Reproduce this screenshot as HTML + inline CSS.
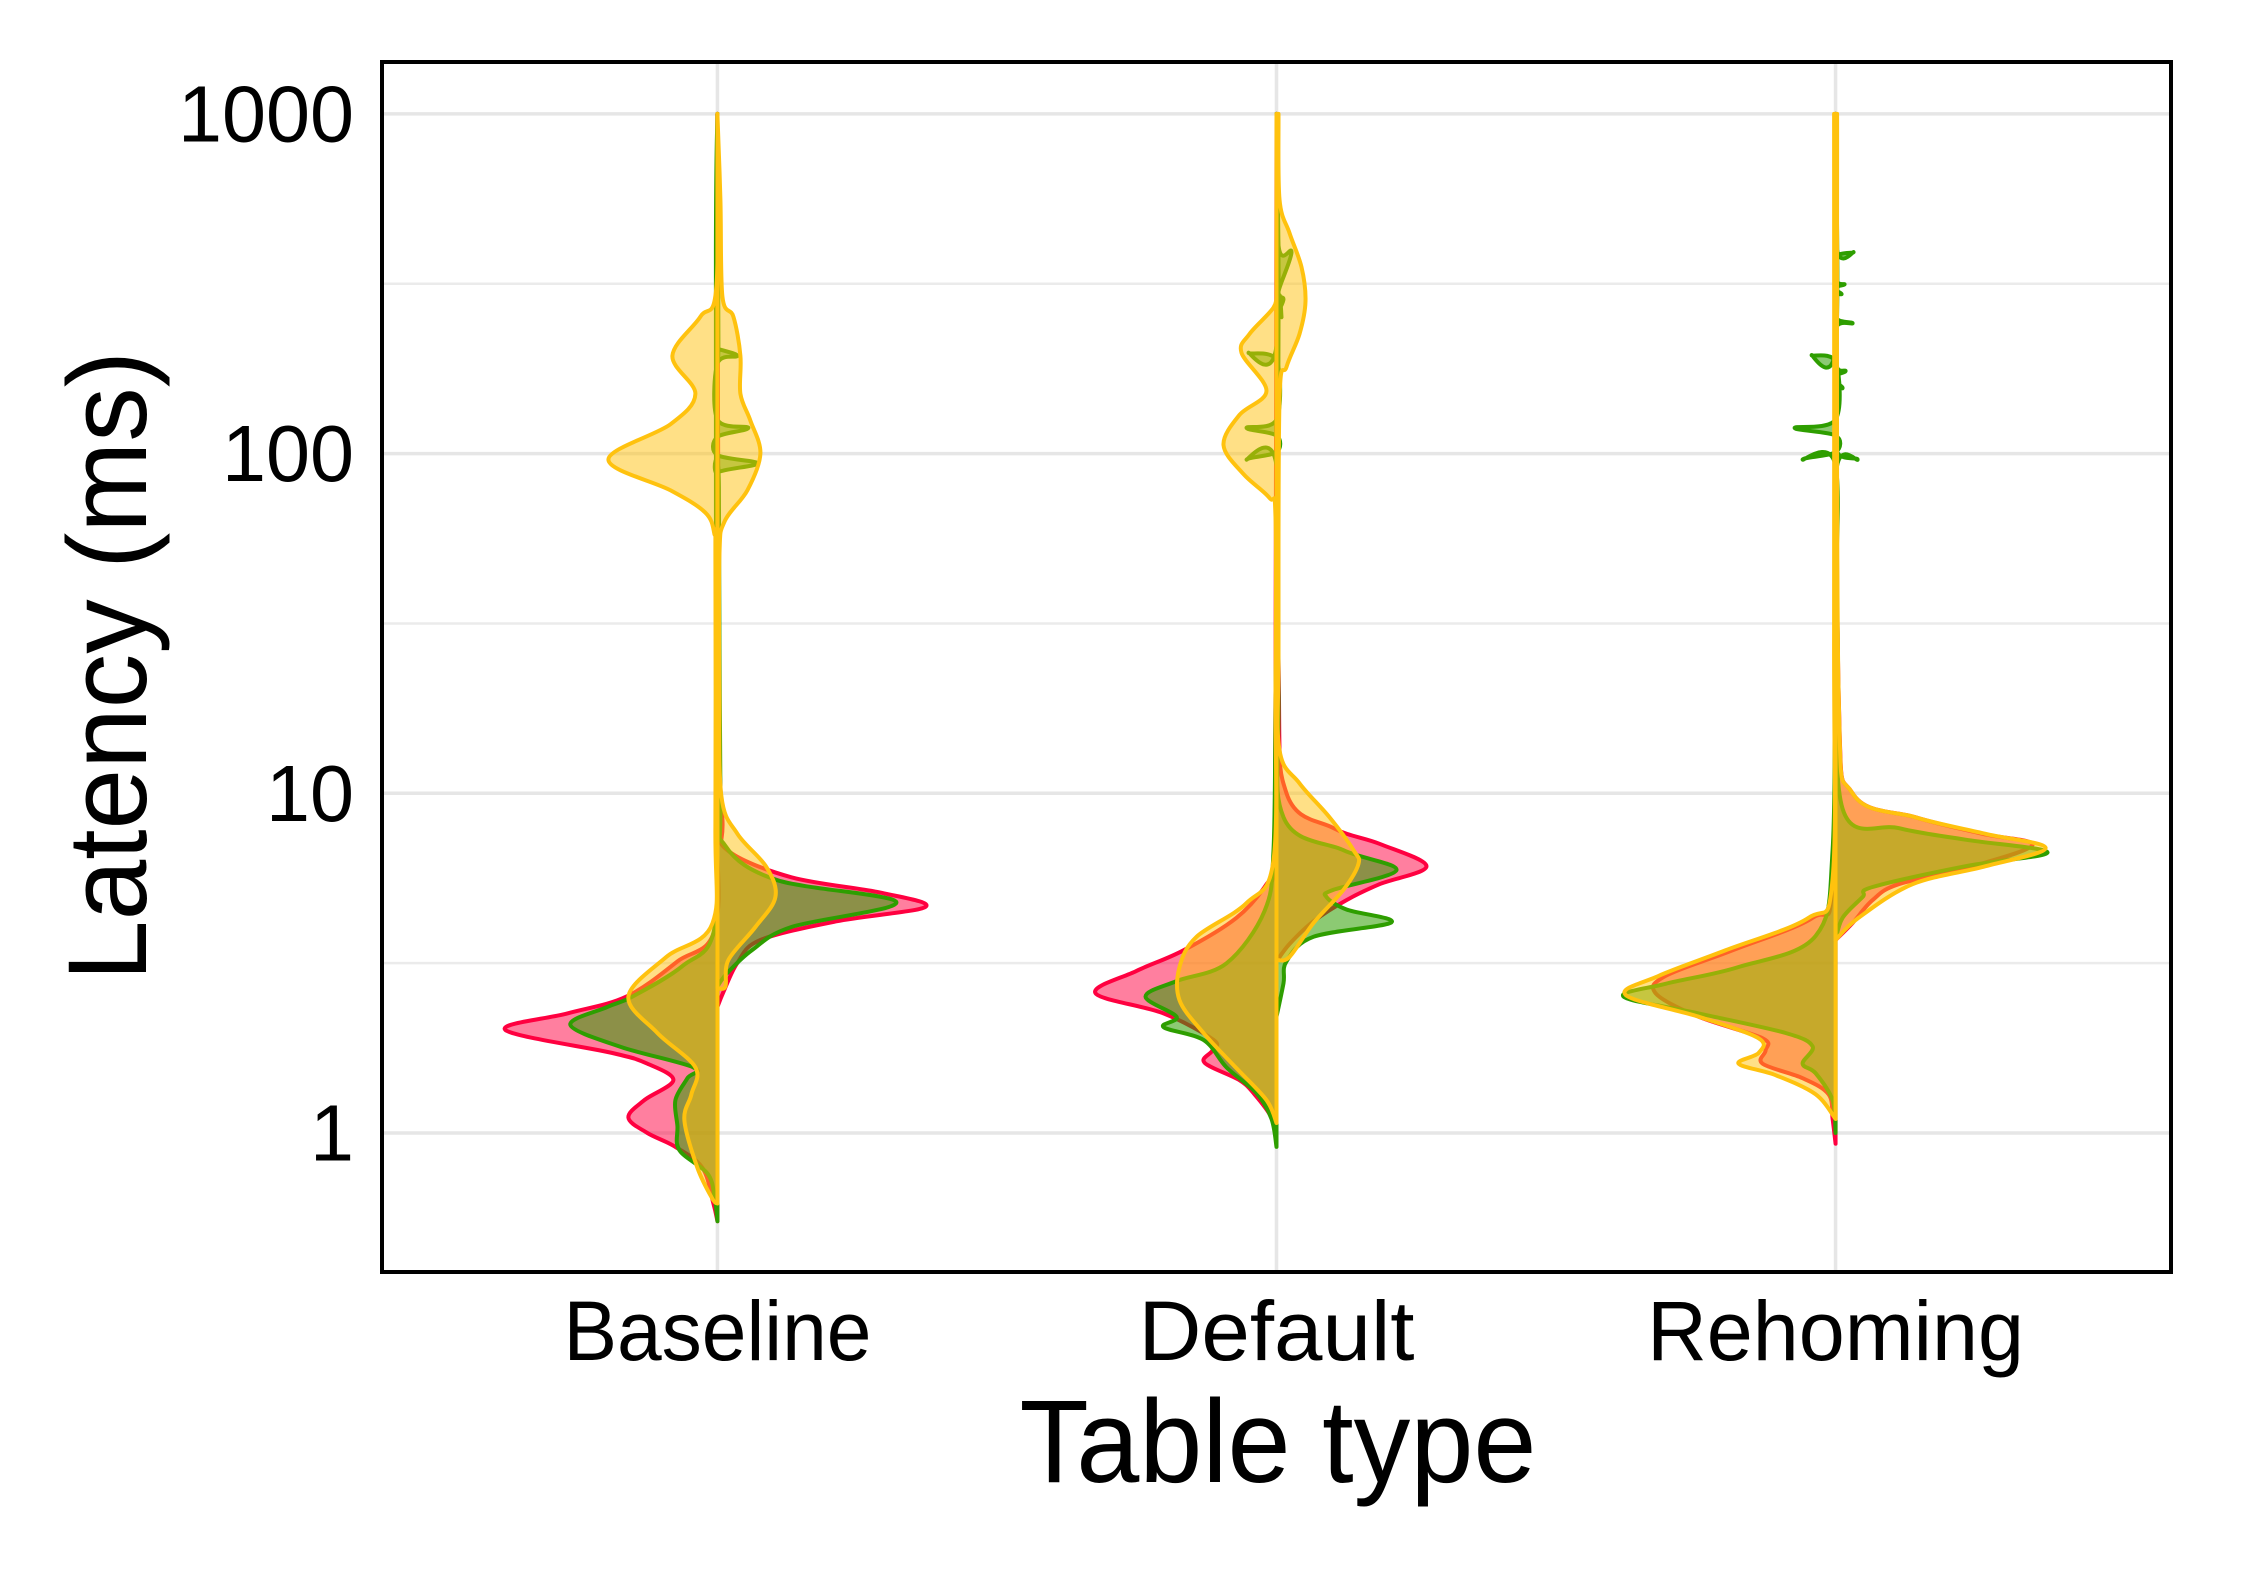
<!DOCTYPE html>
<html><head><meta charset="utf-8">
<style>
html,body{margin:0;padding:0;background:#fff;}
svg{display:block;}
text{font-family:"Liberation Sans",sans-serif;fill:#000;}
</style></head>
<body>
<svg id="chart" width="2250" height="1575" viewBox="0 0 2250 1575" xmlns="http://www.w3.org/2000/svg">
  <rect x="0" y="0" width="2250" height="1575" fill="#fff"/>
  <g id="grid"></g>
  <g id="violins"></g>
  <rect x="382" y="62" width="1789" height="1210" fill="none" stroke="#000" stroke-width="4"/>
  <g id="yticks"></g>
  <g id="xticks"></g>
  <text x="1278" y="1482" font-size="118" text-anchor="middle" textLength="517" lengthAdjust="spacingAndGlyphs">Table type</text>
  <text x="0" y="0" font-size="112" text-anchor="middle" textLength="630" lengthAdjust="spacingAndGlyphs" transform="translate(146,666) rotate(-90)">Latency (ms)</text>
</svg>
<script>
const categories = ["Baseline", "Default", "Rehoming"];
const yTicks = [1, 10, 100, 1000];
const yTickLabels = ["1", "10", "100", "1000"];
const yMinorTicks = [Math.sqrt(10), Math.sqrt(1000), Math.sqrt(100000)];
const seriesNames = ["red", "green", "yellow"];

// [latency ms, half-width density units] per half violin
const baselineRedLeft = [[0.55,0],[0.62,4],[0.79,15],[0.91,42],[1.0,70],[1.11,89],[1.25,73],[1.43,44],[1.6,70],[1.72,105],[2.01,212],[2.25,150],[2.52,91],[3.2,40],[4.04,2],[10,1],[100,1],[1000,0]];
const baselineRedRight = [[2.35,0],[2.6,6],[3.17,20],[3.7,43],[4.2,119],[4.63,208],[5.1,163],[5.66,74],[6.8,10],[8.4,5],[20,1.5],[1000,0]];
const baselineGreenLeft = [[0.55,0],[0.65,3],[0.76,10],[0.89,38],[1.05,40],[1.25,42],[1.45,30],[1.56,24],[1.79,96],[2.08,147],[2.35,110],[2.52,85],[3.1,35],[4.0,3],[10,1.5],[400,1.5],[1000,0]];
const baselineGreenRight = [[2.7,0],[2.96,10],[3.46,35],[4.04,74],[4.78,179],[5.55,60],[7.0,8],[10,3],[80,1.5],[88,0],[93.6,40],[99,0],[112,0],[119,31],[126,0],[184,0],[194,20],[204,0],[210,1],[1000,0]];
const baselineYellowLeft = [[0.62,0],[0.64,5],[0.79,20],[1.09,33],[1.3,26],[1.56,22],[1.97,60],[2.52,89],[3.3,51],[4.14,5],[8,2],[50,2],[58,3],[67,12],[78,47],[96,109],[122,47],[150,22],[194,45],[253,17],[310,1],[1000,0]];
const baselineYellowRight = [[2.67,0],[2.7,8],[3.23,11],[4.04,38],[4.95,58],[6.07,49],[7.6,20],[9.8,4],[20,2],[50,2],[63,7],[78,30],[100,43],[125,33],[150,23],[194,23],[253,16],[290,5],[560,3],[1000,0]];

const defaultRedLeft = [[0.95,0],[1.11,5],[1.3,22],[1.43,37],[1.61,72],[1.75,64],[1.88,63],[2.25,113],[2.58,181],[3.0,140],[3.45,93],[4.3,40],[5.4,10],[6.3,3],[20,1],[1000,0]];
const defaultRedRight = [[3.2,0],[3.6,13],[4.2,37],[4.85,70],[5.4,103],[6.1,150],[7.1,103],[7.9,57],[10,10],[25,2],[1000,0]];
const defaultGreenLeft = [[0.91,0],[1.1,5],[1.31,20],[1.56,50],[1.88,73],[2.05,113],[2.2,100],[2.52,131],[2.8,100],[3.16,50],[4.5,12],[6.8,3],[20,1],[92,0],[96,30],[101,0],[113,0],[119,30],[126,0],[188,0],[198,28],[208,0],[1000,0]];
const defaultGreenRight = [[2.2,0],[2.76,7],[3.2,10],[3.78,37],[4.17,115],[4.55,70],[4.95,50],[5.2,57],[5.94,120],[6.8,67],[8.5,7],[20,2],[240,2],[252,5],[260,2],[285,7],[300,2],[392,15],[410,2],[1000,0]];
const defaultYellowLeft = [[1.07,0],[1.25,10],[1.55,40],[1.97,73],[2.46,97],[3.08,97],[3.78,80],[4.75,30],[6.35,3],[20,1],[65,1],[74,7],[87,33],[106,53],[130,37],[153,10],[198,35],[225,27],[269,3],[300,0]];
const defaultYellowRight = [[3.23,0],[3.3,13],[4.15,37],[5.2,67],[6.2,82],[6.8,77],[8.5,53],[10.7,23],[13.4,3],[26,2],[143,3],[180,10],[225,23],[281,29],[354,25],[446,13],[560,3],[1000,2]];

const rehomingRedLeft = [[0.93,0],[1.1,3],[1.3,7],[1.45,33],[1.6,73],[1.75,70],[1.9,73],[2.2,137],[2.58,180],[2.9,170],[3.45,103],[4.3,23],[5.4,3],[30,1],[1000,0]];
const rehomingRedRight = [[3.7,0],[4.15,17],[4.85,37],[5.4,63],[6.1,137],[7.05,197],[7.6,147],[8.5,80],[10,17],[20,3],[1000,0]];
const rehomingGreenLeft = [[1.0,0],[1.25,3],[1.5,20],[1.6,33],[1.8,23],[1.97,50],[2.25,137],[2.52,212],[2.75,170],[3.08,97],[3.8,20],[6.8,3],[30,1],[92,0],[96,33],[101,0],[113,0],[119,41],[126,0],[186,0],[195,24],[204,0],[1000,0]];
const rehomingGreenRight = [[3.7,0],[4.3,7],[4.95,27],[5.3,37],[6.1,130],[6.7,212],[7.3,130],[7.9,63],[9.0,7],[30,2],[90,1],[96,22],[102,1],[150,1],[156,7],[162,1],[170,1],[175,10],[181,1],[236,1],[242,17],[250,1],[290,1],[295,6],[302,1],[310,1],[315,9],[322,1],[380,1],[392,18],[405,1],[1000,0]];
const rehomingYellowLeft = [[1.1,0],[1.3,20],[1.48,60],[1.6,97],[1.72,77],[1.9,77],[2.2,137],[2.55,210],[2.9,177],[3.45,110],[4.3,27],[5.6,3],[30,1.5],[1000,1.5]];
const rehomingYellowRight = [[3.7,0],[4.3,23],[5.4,77],[6.1,150],[6.9,210],[7.6,150],[8.5,80],[10,17],[20,3],[1000,1.5]];

const halves = [
  [baselineRedLeft, baselineRedRight, baselineGreenLeft, baselineGreenRight, baselineYellowLeft, baselineYellowRight],
  [defaultRedLeft, defaultRedRight, defaultGreenLeft, defaultGreenRight, defaultYellowLeft, defaultYellowRight],
  [rehomingRedLeft, rehomingRedRight, rehomingGreenLeft, rehomingGreenRight, rehomingYellowLeft, rehomingYellowRight]
];

const NS = "http://www.w3.org/2000/svg";
const plotL = 382, plotR = 2171, plotT = 62, plotB = 1272;
const strokeCols = {red:"#ff0040", green:"#2e9e00", yellow:"#ffc20e"};
const fillCols = {red:"rgba(255,0,64,0.5)", green:"rgba(46,158,0,0.55)", yellow:"rgba(255,194,14,0.5)"};

function yScale(v){ return 1133 - 339.7 * Math.log10(v); }
function xScale(i){ return plotL + (plotR - plotL) * (i + 0.6) / 3.2; }
function wScale(w){ return w; }

function mk(tag, attrs, parent){
  const el = document.createElementNS(NS, tag);
  for (const k in attrs) el.setAttribute(k, attrs[k]);
  parent.appendChild(el);
  return el;
}

const grid = document.getElementById("grid");
yMinorTicks.forEach(v => {
  const l = mk("line", {x1:plotL, x2:plotR, y1:yScale(v), y2:yScale(v), stroke:"#ebebeb", "stroke-width":2.5}, grid);
  
  
});
yTicks.forEach(v => {
  const l = mk("line", {x1:plotL, x2:plotR, y1:yScale(v), y2:yScale(v), stroke:"#e6e6e6", "stroke-width":3.5}, grid);
  
  
});
categories.forEach((c, i) => {
  const l = mk("line", {x1:xScale(i), x2:xScale(i), y1:plotT, y2:plotB, stroke:"#e6e6e6", "stroke-width":3.5}, grid);
  
  
});

const yt = document.getElementById("yticks");
yTicks.forEach((v, i) => {
  const t = mk("text", {x:354, y:yScale(v), "font-size":80, "text-anchor":"end", "dominant-baseline":"central", textLength: 44*yTickLabels[i].length, lengthAdjust:"spacingAndGlyphs"}, yt);
  t.textContent = yTickLabels[i];
  
  
});
const xt = document.getElementById("xticks");
const xLabelWidths = [308, 276, 377];
categories.forEach((c, i) => {
  const t = mk("text", {x:xScale(i), y:1360, "font-size":84, "text-anchor":"middle", textLength:xLabelWidths[i], lengthAdjust:"spacingAndGlyphs"}, xt);
  t.textContent = c;
  
  
});

function halfPath(pts, cx, dir){
  const P = pts.map(p => [cx + dir * wScale(p[1]), yScale(p[0])]);
  let d = "M" + cx + "," + P[0][1] + " L" + P[0][0] + "," + P[0][1];
  for (let k = 0; k < P.length - 1; k++){
    const p0 = P[Math.max(0,k-1)], p1 = P[k], p2 = P[k+1], p3 = P[Math.min(P.length-1,k+2)];
    const c1x = p1[0] + (p2[0]-p0[0])/6, c1y = p1[1] + (p2[1]-p0[1])/6;
    const c2x = p2[0] - (p3[0]-p1[0])/6, c2y = p2[1] - (p3[1]-p1[1])/6;
    d += " C" + c1x.toFixed(1) + "," + c1y.toFixed(1) + " " + c2x.toFixed(1) + "," + c2y.toFixed(1) + " " + p2[0].toFixed(1) + "," + p2[1].toFixed(1);
  }
  d += " L" + cx + "," + P[P.length-1][1] + " Z";
  return d;
}

const vg = document.getElementById("violins");
categories.forEach((c, i) => {
  const g = mk("g", {}, vg);
  
  
  seriesNames.forEach((s, si) => {
    [0, 1].forEach(side => {
      const pts = halves[i][si*2 + side];
      const p = mk("path", {d: halfPath(pts, xScale(i), side === 0 ? -1 : 1), fill: fillCols[s], stroke: strokeCols[s], "stroke-width": 4, "stroke-linejoin":"round"}, g);
      
      
    });
  });
});
</script>
</body></html>
